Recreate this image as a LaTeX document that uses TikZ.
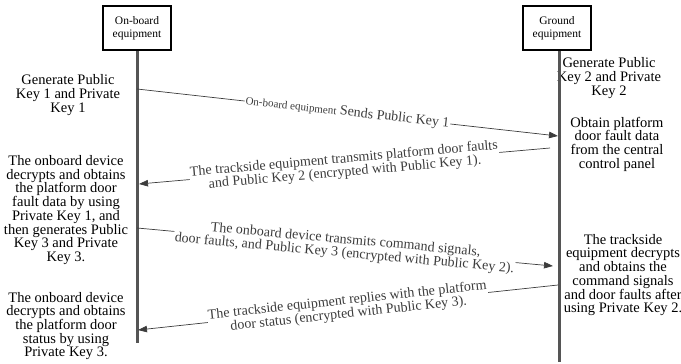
\documentclass[tikz,border=0pt]{standalone}
\usepackage{fontspec}
\setmainfont{Liberation Serif}
\usetikzlibrary{arrows.meta, positioning}
\definecolor{lifegray}{RGB}{85,85,85}
\definecolor{msggray}{RGB}{60,60,60}

\tikzset{
  actor/.style={draw, line width=1.6pt, fill=white, minimum width=68pt, minimum height=44pt,
    align=center, font=\fontsize{11.5}{13}\selectfont},
  lifeline/.style={lifegray, line width=3pt},
  msg/.style={msggray, line width=0.7pt, -{Triangle[length=9pt,width=6.5pt]}},
  msglabel/.style={fill=white, inner sep=1pt, align=center, sloped, pos=0.5,
    font=\fontsize{14}{13.5}\selectfont},
  note/.style={align=center, inner sep=0pt, font=\fontsize{14.5}{13.7}\selectfont},
}

\begin{document}
\begin{tikzpicture}[x=1pt, y=-1pt]
  \useasboundingbox (0,0) rectangle (681,364);

  % actions next to each lifeline
  \node[note] (keys1) at (68,95) {Generate Public\\Key 1 and Private\\Key 1};
  \node[note] (dec1) at (66,210) {The onboard device\\decrypts and obtains\\the platform door\\fault data by using\\Private Key 1, and\\then generates Public\\Key 3 and Private\\Key 3.};
  \node[note] (dec3) at (66,326) {The onboard device\\decrypts and obtains\\the platform door\\status by using\\Private Key 3.};
  \node[note] (keys2) at (609,78) {Generate Public\\Key 2 and Private\\Key 2};
  \node[note] (fault) at (617,144) {Obtain platform\\door fault data\\from the central\\control panel};
  \node[note] (dec2) at (623,275) {The trackside\\equipment decrypts\\and obtains the\\command signals\\and door faults after\\using Private Key 2.};

  % lifelines
  \coordinate (obeEnd) at (137,343);
  \coordinate (gndEnd) at (559,362);
  \node[actor] (obe) at (137,28) {On-board\\equipment};
  \node[actor] (gnd) at (557,28) {Ground\\equipment};
  \draw[lifeline] (obe.south) -- (obeEnd);
  \draw[lifeline] (gnd.south -| gndEnd) -- (gndEnd);

  % message end points
  \coordinate (m1a) at (137,89);  \coordinate (m1b) at (558,136);
  \coordinate (m2a) at (550,148); \coordinate (m2b) at (139,184);
  \coordinate (m3a) at (137,228); \coordinate (m3b) at (553,266);
  \coordinate (m4a) at (558,285); \coordinate (m4b) at (138,330);

  % messages
  \draw[msg] (m1a) -- node[msglabel] {{\fontsize{11}{12}\selectfont On-board equipment} Sends Public Key 1} (m1b);
  \draw[msg] (m2a) -- node[msglabel] {The trackside equipment transmits platform door faults\\and Public Key 2 (encrypted with Public Key 1).} (m2b);
  \draw[msg] (m3a) -- node[msglabel] {The onboard device transmits command signals,\\door faults, and Public Key 3 (encrypted with Public Key 2).} (m3b);
  \draw[msg] (m4a) -- node[msglabel] {The trackside equipment replies with the platform\\door status (encrypted with Public Key 3).} (m4b);
\end{tikzpicture}
\end{document}
